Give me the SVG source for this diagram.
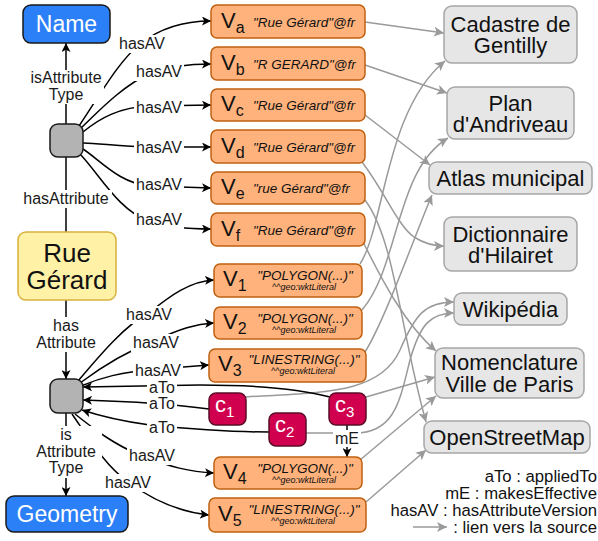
<svg xmlns="http://www.w3.org/2000/svg" width="598" height="541" viewBox="0 0 598 541">
  <style>
    text { font-family: "Liberation Sans", Arial, sans-serif; }
    .lbl { font-size: 16px; fill: #1a1a1a; text-anchor: middle; }
    .bg { fill: #ffffff; stroke: none; }
    .edge { fill: none; stroke: #000; stroke-width: 1.5; marker-end: url(#ab); }
    .plain { fill: none; stroke: #000; stroke-width: 1.5; }
    .src-link { fill: none; stroke: #9a9a9a; stroke-width: 1.5; marker-end: url(#ag); }
    .v { fill: #ffb27c; stroke: #c0600f; stroke-width: 1.5; }
    .vn { font-size: 22px; fill: #111; }
    .vs { font-size: 16px; }
    .val { font-size: 13.5px; font-style: italic; fill: #111; }
    .valc { font-size: 13.5px; font-style: italic; fill: #111; text-anchor: middle; }
    .geo { font-size: 9px; font-style: italic; fill: #111; text-anchor: middle; }
    .src { fill: #e6e6e6; stroke: #a6a6a6; stroke-width: 1.5; }
    .srct { font-size: 22px; fill: #111; text-anchor: middle; }
    .blue { fill: #2b7ff7; stroke: #1a1a1a; stroke-width: 1.5; }
    .bluet { font-size: 23px; fill: #fff; text-anchor: middle; }
    .gnode { fill: #b3b3b3; stroke: #1a1a1a; stroke-width: 1.5; }
    .c { fill: #d1004f; stroke: #5a0d27; stroke-width: 1.5; }
    .ct { font-size: 22px; fill: #fff; }
    .cs { font-size: 15px; }
    .leg { font-size: 16.7px; fill: #111; text-anchor: end; }
  </style>
  <defs>
    <marker id="ab" viewBox="0 0 10 10" refX="10" refY="5" markerWidth="9" markerHeight="9" markerUnits="userSpaceOnUse" orient="auto">
      <path d="M0,0 L10,5 L0,10 L2.5,5 z" fill="#000"/>
    </marker>
    <marker id="ag" viewBox="0 0 10 10" refX="10" refY="5" markerWidth="10" markerHeight="10" markerUnits="userSpaceOnUse" orient="auto">
      <path d="M0,0 L10,5 L0,10 L2.5,5 z" fill="#9a9a9a"/>
    </marker>
  </defs>

  <g id="connectors">
    <!-- links from versions / changes to their sources -->
    <path class="src-link" d="M365,22 L444,33"/>
    <path class="src-link" d="M365,65 L447,93"/>
    <path class="src-link" d="M365,115 L430,165"/>
    <path class="src-link" d="M362,162 C385,192 398,226 414,237 C425,244 434,246 444,246"/>
    <path class="src-link" d="M365,200 C395,240 400,330 426,422"/>
    <path class="src-link" d="M362,240 C375,265 400,320 436,351"/>
    <path class="src-link" d="M360,264 C385,225 385,110 445,61"/>
    <path class="src-link" d="M362,310 C400,265 395,170 448,138"/>
    <path class="src-link" d="M365,352 C385,320 415,235 432,195"/>
    <path class="src-link" d="M246,397 C320,392 380,395 400,350 C415,315 425,302 454,302"/>
    <path class="src-link" d="M306,433 L355,433 C395,433 400,400 410,360 C420,325 430,313 454,313"/>
    <path class="src-link" d="M366,397 L435,377"/>
    <path class="src-link" d="M360,460 L436,396"/>
    <path class="src-link" d="M366,502 L426,450"/>

    <!-- structural links -->
    <path class="edge" d="M66,124 L66,43"/>
    <path class="plain" d="M66,157 L66,232"/>
    <path class="edge" d="M66,300 L66,379"/>
    <path class="edge" d="M66,413 L66,496"/>

    <!-- name versions -->
    <path class="edge" d="M79,126 C100,95 118,62 140,44 C160,28 185,21 211,21"/>
    <path class="edge" d="M81,128 C100,110 120,88 150,73 C170,66 190,64 211,64"/>
    <path class="edge" d="M83,132 C100,118 120,107 150,106 L211,105"/>
    <path class="edge" d="M83,143 C100,143 120,147 150,147 L211,147"/>
    <path class="edge" d="M83,149 C100,160 120,184 150,186 L211,188"/>
    <path class="edge" d="M80,154 C100,175 118,210 150,222 C170,228 190,229 211,229"/>

    <!-- geometry versions -->
    <path class="edge" d="M78,381 C100,355 125,325 150,312 C170,296 190,281 214,280"/>
    <path class="edge" d="M80,383 C100,368 125,352 156,340 C180,329 195,324 214,323"/>
    <path class="edge" d="M81,386 C100,378 120,372 158,369 L209,365"/>
    <path class="edge" d="M75,414 C95,430 115,445 140,455 C170,467 190,472 214,473"/>
    <path class="edge" d="M72,414 C90,440 105,465 128,482 C155,502 180,512 209,515"/>

    <!-- changes applied to the attribute -->
    <path class="edge" d="M330,397 C300,389 250,385 200,385 L83,387"/>
    <path class="edge" d="M209,409 C180,405 150,402 83,400"/>
    <path class="edge" d="M269,432 C230,432 180,428 150,425 C120,421 100,416 82,410"/>
    <path class="edge" d="M347,425 L347,457"/>

    <!-- labels -->
    <rect class="bg" x="28" y="70" width="76" height="34"/>
    <text class="lbl" x="66" y="83">isAttribute</text>
    <text class="lbl" x="66" y="100">Type</text>
    <rect class="bg" x="20" y="190" width="92" height="18"/>
    <text class="lbl" x="66" y="204">hasAttribute</text>
    <rect class="bg" x="30" y="317" width="72" height="35"/>
    <text class="lbl" x="66" y="331">has</text>
    <text class="lbl" x="66" y="348">Attribute</text>
    <rect class="bg" x="30" y="426" width="72" height="52"/>
    <text class="lbl" x="66" y="440">is</text>
    <text class="lbl" x="66" y="457">Attribute</text>
    <text class="lbl" x="66" y="473">Type</text>

    <rect class="bg" x="117" y="35" width="50" height="18"/>
    <text class="lbl" x="142" y="49">hasAV</text>
    <rect class="bg" x="134" y="63" width="50" height="18"/>
    <text class="lbl" x="159" y="77">hasAV</text>
    <rect class="bg" x="134" y="99" width="50" height="18"/>
    <text class="lbl" x="159" y="113">hasAV</text>
    <rect class="bg" x="134" y="139" width="50" height="18"/>
    <text class="lbl" x="159" y="153">hasAV</text>
    <rect class="bg" x="134" y="176" width="50" height="18"/>
    <text class="lbl" x="159" y="190">hasAV</text>
    <rect class="bg" x="134" y="211" width="50" height="18"/>
    <text class="lbl" x="159" y="225">hasAV</text>

    <rect class="bg" x="124" y="306" width="50" height="18"/>
    <text class="lbl" x="149" y="320">hasAV</text>
    <rect class="bg" x="131" y="334" width="50" height="18"/>
    <text class="lbl" x="156" y="348">hasAV</text>
    <rect class="bg" x="133" y="362" width="50" height="18"/>
    <text class="lbl" x="158" y="376">hasAV</text>
    <rect class="bg" x="147" y="379" width="30" height="17"/>
    <text class="lbl" x="162" y="392.5">aTo</text>
    <rect class="bg" x="147" y="395" width="30" height="17"/>
    <text class="lbl" x="162" y="408.5">aTo</text>
    <rect class="bg" x="147" y="419" width="30" height="17"/>
    <text class="lbl" x="162" y="432.5">aTo</text>
    <rect class="bg" x="127" y="447" width="50" height="18"/>
    <text class="lbl" x="152" y="461">hasAV</text>
    <rect class="bg" x="103" y="474" width="50" height="18"/>
    <text class="lbl" x="128" y="488">hasAV</text>
    <rect class="bg" x="333" y="430" width="28" height="17"/>
    <text class="lbl" x="347" y="444">mE</text>
  </g>

  <g id="name">
    <rect class="blue" x="23" y="5" width="87" height="38" rx="8"/>
    <text class="bluet" x="66.5" y="32">Name</text>
  </g>
  <g id="attr-name">
    <rect class="gnode" x="50" y="124" width="33" height="33" rx="8"/>
  </g>
  <g id="rue-gerard">
    <rect x="18" y="232" width="98" height="68" rx="8" fill="#fff1a6" stroke="#d8b13e" stroke-width="1.5"/>
    <text x="67" y="262" font-size="26" fill="#111" text-anchor="middle">Rue</text>
    <text x="67" y="289" font-size="26" fill="#111" text-anchor="middle">Gérard</text>
  </g>
  <g id="attr-geometry">
    <rect class="gnode" x="50" y="379" width="33" height="34" rx="8"/>
  </g>
  <g id="geometry">
    <rect class="blue" x="6" y="496" width="122" height="36" rx="8"/>
    <text class="bluet" x="67" y="522">Geometry</text>
  </g>

  <g id="va">
    <rect class="v" x="211" y="5" width="154" height="33" rx="6"/>
    <text class="vn" x="221" y="27.5">V<tspan class="vs" dy="5">a</tspan></text>
    <text class="val" x="253" y="26.5">"Rue Gérard"@fr</text>
  </g>
  <g id="vb">
    <rect class="v" x="211" y="47" width="154" height="33" rx="6"/>
    <text class="vn" x="221" y="69.5">V<tspan class="vs" dy="5">b</tspan></text>
    <text class="val" x="253" y="68.5">"R GERARD"@fr</text>
  </g>
  <g id="vc">
    <rect class="v" x="211" y="89" width="154" height="32" rx="6"/>
    <text class="vn" x="221" y="111">V<tspan class="vs" dy="5">c</tspan></text>
    <text class="val" x="253" y="110">"Rue Gérard"@fr</text>
  </g>
  <g id="vd">
    <rect class="v" x="211" y="130" width="154" height="33" rx="6"/>
    <text class="vn" x="221" y="152.5">V<tspan class="vs" dy="5">d</tspan></text>
    <text class="val" x="253" y="151.5">"Rue Gérard"@fr</text>
  </g>
  <g id="ve">
    <rect class="v" x="211" y="172" width="154" height="32" rx="6"/>
    <text class="vn" x="221" y="194">V<tspan class="vs" dy="5">e</tspan></text>
    <text class="val" x="253" y="193">"rue Gérard"@fr</text>
  </g>
  <g id="vf">
    <rect class="v" x="211" y="213" width="154" height="33" rx="6"/>
    <text class="vn" x="221" y="235.5">V<tspan class="vs" dy="5">f</tspan></text>
    <text class="val" x="253" y="234.5">"Rue Gérard"@fr</text>
  </g>

  <g id="v1">
    <rect class="v" x="214" y="264" width="148" height="33" rx="6"/>
    <text class="vn" x="223" y="286">V<tspan class="vs" dy="5">1</tspan></text>
    <text class="valc" x="305" y="280">"POLYGON(...)"</text>
    <text class="geo" x="304" y="290">^^geo:wktLiteral</text>
  </g>
  <g id="v2">
    <rect class="v" x="214" y="307" width="148" height="32" rx="6"/>
    <text class="vn" x="223" y="328.5">V<tspan class="vs" dy="5">2</tspan></text>
    <text class="valc" x="305" y="322.5">"POLYGON(...)"</text>
    <text class="geo" x="304" y="332.5">^^geo:wktLiteral</text>
  </g>
  <g id="v3">
    <rect class="v" x="209" y="349" width="157" height="33" rx="6"/>
    <text class="vn" x="218" y="371">V<tspan class="vs" dy="5">3</tspan></text>
    <text class="valc" x="304" y="363.5">"LINESTRING(...)"</text>
    <text class="geo" x="303" y="373.5">^^geo:wktLiteral</text>
  </g>
  <g id="v4">
    <rect class="v" x="214" y="457" width="148" height="32" rx="6"/>
    <text class="vn" x="223" y="478.5">V<tspan class="vs" dy="5">4</tspan></text>
    <text class="valc" x="305" y="472.5">"POLYGON(...)"</text>
    <text class="geo" x="304" y="482.5">^^geo:wktLiteral</text>
  </g>
  <g id="v5">
    <rect class="v" x="209" y="498" width="157" height="34" rx="6"/>
    <text class="vn" x="218" y="520.5">V<tspan class="vs" dy="5">5</tspan></text>
    <text class="valc" x="304" y="513.5">"LINESTRING(...)"</text>
    <text class="geo" x="303" y="523.5">^^geo:wktLiteral</text>
  </g>

  <g id="c1">
    <rect class="c" x="209" y="393" width="37" height="32" rx="7"/>
    <text class="ct" x="215" y="412">c<tspan class="cs" dy="5">1</tspan></text>
  </g>
  <g id="c2">
    <rect class="c" x="269" y="413" width="37" height="33" rx="7"/>
    <text class="ct" x="275" y="432">c<tspan class="cs" dy="5">2</tspan></text>
  </g>
  <g id="c3">
    <rect class="c" x="329" y="393" width="37" height="32" rx="7"/>
    <text class="ct" x="335" y="412">c<tspan class="cs" dy="5">3</tspan></text>
  </g>

  <g id="cadastre">
    <rect class="src" x="444" y="6" width="133" height="57" rx="8"/>
    <text class="srct" x="510.5" y="32">Cadastre de</text>
    <text class="srct" x="510.5" y="53">Gentilly</text>
  </g>
  <g id="andriveau">
    <rect class="src" x="447" y="87" width="127" height="52" rx="8"/>
    <text class="srct" x="510.5" y="111">Plan</text>
    <text class="srct" x="510.5" y="132">d'Andriveau</text>
  </g>
  <g id="atlas">
    <rect class="src" x="429" y="162" width="163" height="32" rx="8"/>
    <text class="srct" x="510.5" y="186">Atlas municipal</text>
  </g>
  <g id="hilairet">
    <rect class="src" x="444" y="217" width="133" height="54" rx="8"/>
    <text class="srct" x="510.5" y="242">Dictionnaire</text>
    <text class="srct" x="510.5" y="263">d'Hilairet</text>
  </g>
  <g id="wikipedia">
    <rect class="src" x="454" y="293" width="113" height="32" rx="8"/>
    <text class="srct" x="510.5" y="317">Wikipédia</text>
  </g>
  <g id="nomenclature">
    <rect class="src" x="435" y="348" width="149" height="50" rx="8"/>
    <text class="srct" x="509.5" y="370">Nomenclature</text>
    <text class="srct" x="509.5" y="392">Ville de Paris</text>
  </g>
  <g id="osm">
    <rect class="src" x="424" y="421" width="166" height="32" rx="8"/>
    <text class="srct" x="507" y="445">OpenStreetMap</text>
  </g>

  <g id="legend">
    <text class="leg" x="597" y="482">aTo : appliedTo</text>
    <text class="leg" x="597" y="499">mE : makesEffective</text>
    <text class="leg" x="597" y="516">hasAV : hasAttributeVersion</text>
    <path class="src-link" d="M413,527 L447,527"/>
    <text class="leg" x="597" y="533">: lien vers la source</text>
  </g>
</svg>
